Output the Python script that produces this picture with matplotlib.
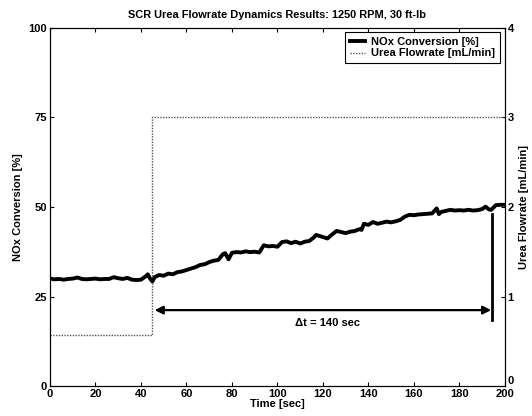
import matplotlib.pyplot as plt

plt.rcParams["font.family"] = ["Liberation Sans", "DejaVu Sans"]
plt.rcParams["font.weight"] = "bold"
plt.rcParams["axes.titleweight"] = "bold"
plt.rcParams["axes.labelweight"] = "bold"
plt.rcParams["font.size"] = 8

# NOx conversion [%]
time_s = [0, 2, 4, 6, 8, 10, 12, 14, 16, 18, 20, 22, 24, 26, 28, 30, 32, 34, 36, 38,
          40, 42, 43, 44, 45, 46, 48, 50, 52, 54, 56, 58, 60, 62, 64, 66, 68, 70, 72, 74,
          76, 77, 78.5, 80, 82, 84, 86, 88, 90, 92, 94, 96, 98, 100, 102, 104, 106, 108, 110, 112,
          114, 116, 117, 120, 122, 124, 126, 128, 130, 132, 134, 136, 137, 138, 140, 142, 144, 146, 148, 150,
          152, 154, 156, 158, 160, 162, 164, 166, 168, 170, 171, 172, 174, 176, 178, 180, 182, 184, 186, 188,
          190, 191.5, 193, 194, 196, 198, 200]
nox = [30.0, 29.8, 29.9, 29.7, 29.9, 30.0, 30.3, 29.9, 29.8, 29.9, 30.0, 29.8, 29.9, 29.9, 30.4, 30.1, 29.9, 30.2, 29.7, 29.6,
       29.7, 30.6, 31.2, 30.0, 29.2, 30.4, 31.0, 30.8, 31.4, 31.2, 31.8, 32.0, 32.4, 32.8, 33.2, 33.8, 34.0, 34.6, 35.0, 35.2,
       36.8, 37.1, 35.4, 37.2, 37.4, 37.3, 37.6, 37.4, 37.5, 37.3, 39.3, 39.0, 39.1, 38.9, 40.2, 40.4, 39.9, 40.3, 39.8, 40.3,
       40.5, 41.5, 42.2, 41.6, 41.2, 42.3, 43.3, 43.0, 42.7, 43.1, 43.3, 43.8, 43.6, 45.3, 45.0, 45.8, 45.3, 45.6, 45.9, 45.7,
       46.0, 46.4, 47.3, 47.8, 47.7, 47.9, 48.0, 48.1, 48.2, 49.6, 48.0, 48.6, 48.9, 49.2, 49.0, 49.1, 49.0, 49.2, 49.0, 49.1,
       49.4, 50.1, 49.3, 49.2, 50.5, 50.6, 50.6]

# urea flowrate [mL/min] step
urea_t = [0, 45, 45, 200]
urea_flow = [0.57, 0.57, 3.0, 3.0]

fig = plt.figure(figsize=(5.32, 4.16), dpi=100)
ax = fig.add_axes([0.094, 0.072, 0.855, 0.861])
ax2 = ax.twinx()

ax2.plot(urea_t, urea_flow, color="#555555", linestyle=(0, (1, 1)), linewidth=1.0,
         label="Urea Flowrate [mL/min]")
ax.plot(time_s, nox, color="black", linewidth=2.8, label="NOx Conversion [%]")

# delta-t annotation
ax.annotate("", xy=(194, 21.2), xytext=(46, 21.2),
            arrowprops=dict(arrowstyle="<|-|>", color="black", lw=1.6,
                            mutation_scale=12, shrinkA=0, shrinkB=0))
ax.plot([194.5, 194.5], [18.4, 48], color="black", linewidth=2.0)
ax.text(122, 17.6, "\u0394t = 140 sec", ha="center", va="center")

ax.set_xlim(0, 200)
ax.set_ylim(0, 100)
ax2.set_ylim(0, 4)
ax.set_xticks(range(0, 201, 20))
ax.set_yticks([0, 25, 50, 75, 100])
ax2.set_yticks([0, 1, 2, 3, 4])
ax.tick_params(direction="in", length=3, top=True, pad=2)
ax2.tick_params(direction="in", length=3, pad=2)
ax.set_xlabel("Time [sec]", labelpad=0)
ax.set_ylabel("NOx Conversion [%]", labelpad=4)
ax2.set_ylabel("Urea Flowrate [mL/min]", labelpad=4)
ax.set_title("SCR Urea Flowrate Dynamics Results: 1250 RPM, 30 ft-lb", fontsize=7.9, pad=7)

# lift the right-hand "0" so it sits clear of the "200" below it
ax2.get_yticklabels()[0].set_va("bottom")

ax.set_zorder(ax2.get_zorder() + 1)
ax.patch.set_visible(False)

h1, l1 = ax.get_legend_handles_labels()
h2, l2 = ax2.get_legend_handles_labels()
leg = ax.legend(h1 + h2, l1 + l2, loc="upper right", bbox_to_anchor=(1, 1),
                borderaxespad=0.4, fancybox=False, framealpha=1,
                edgecolor="black", handlelength=1.3, handletextpad=0.6,
                borderpad=0.45, labelspacing=0.1)
leg.get_frame().set_linewidth(0.8)

fig.savefig("out.png", dpi=100, facecolor="white")
